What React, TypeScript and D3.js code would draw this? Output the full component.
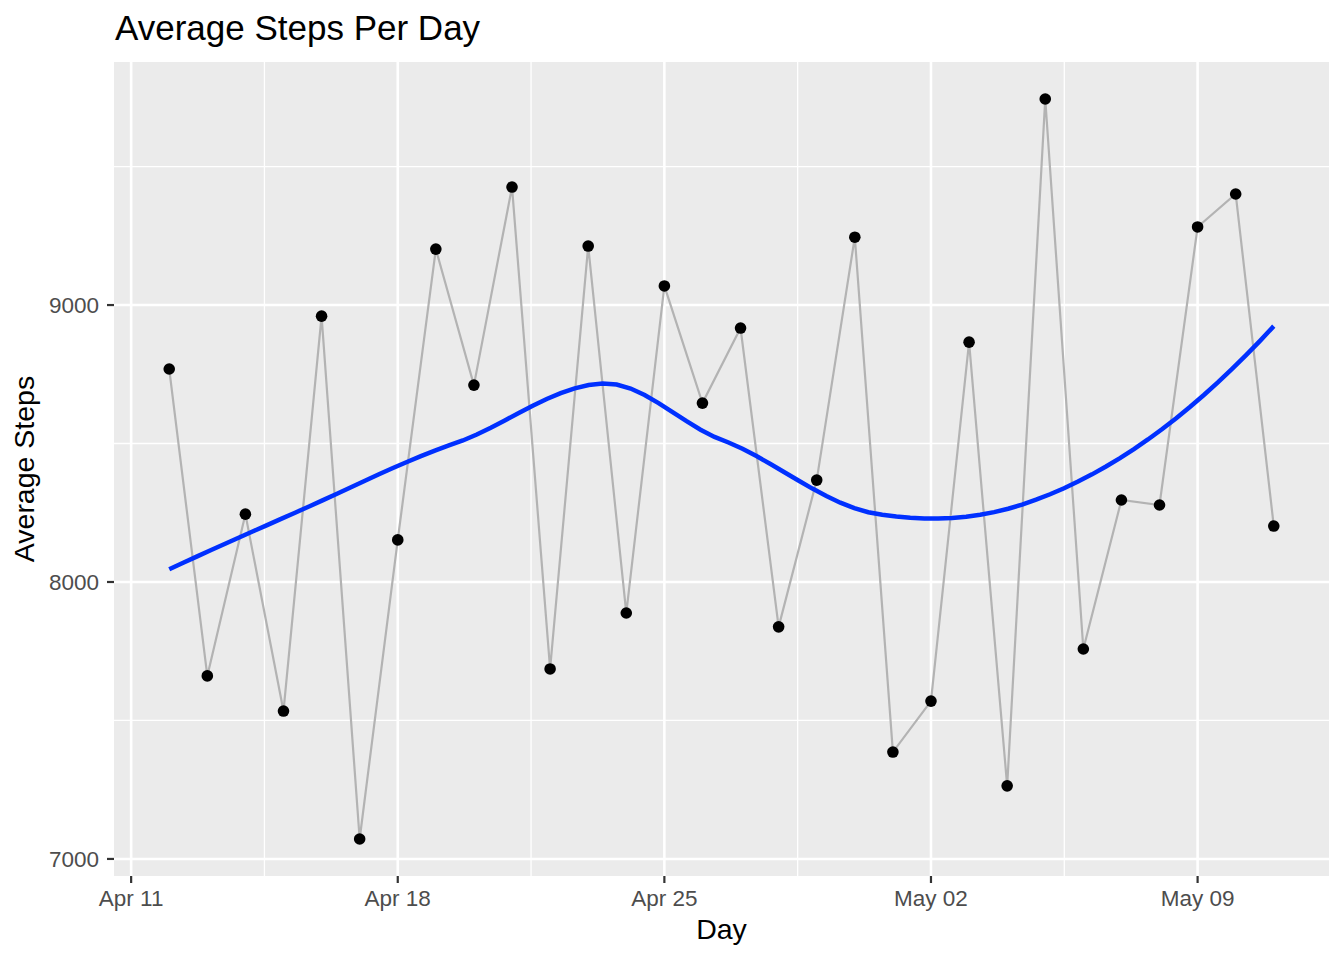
import React from "react";
import * as d3 from "d3";

// ---- Data ----
const days: string[] = [
  "2016-04-12", "2016-04-13", "2016-04-14", "2016-04-15", "2016-04-16",
  "2016-04-17", "2016-04-18", "2016-04-19", "2016-04-20", "2016-04-21",
  "2016-04-22", "2016-04-23", "2016-04-24", "2016-04-25", "2016-04-26",
  "2016-04-27", "2016-04-28", "2016-04-29", "2016-04-30", "2016-05-01",
  "2016-05-02", "2016-05-03", "2016-05-04", "2016-05-05", "2016-05-06",
  "2016-05-07", "2016-05-08", "2016-05-09", "2016-05-10", "2016-05-11",
];
const avgSteps: number[] = [
  8769, 7661, 8245, 7534, 8960,
  7072, 8152, 9202, 8711, 9426,
  7686, 9213, 7888, 9069, 8646,
  8917, 7838, 8368, 9245, 7386,
  7570, 8866, 7264, 9744, 7758,
  8296, 8278, 9282, 9401, 8202,
];
const xTickDays: string[] = ["2016-04-11", "2016-04-18", "2016-04-25", "2016-05-02", "2016-05-09"];
const xTickLabels: string[] = ["Apr 11", "Apr 18", "Apr 25", "May 02", "May 09"];
const yTicks: number[] = [7000, 8000, 9000];
const yMinorTicks: number[] = [7500, 8500, 9500];

const TITLE = "Average Steps Per Day";
const X_TITLE = "Day";
const Y_TITLE = "Average Steps";

// ---- Loess (degree 2, span 0.75, tricube), with R-style kd-tree + Hermite interpolation ----
function localFit(xs: number[], ys: number[], span: number, x0: number): [number, number] {
  const n = xs.length;
  const q = Math.floor(n * span);
  const dists = xs.map((x) => Math.abs(x - x0));
  const sorted = [...dists].sort((a, b) => a - b);
  const h = sorted[q - 1] * (1 + 1e-8);
  const S = [
    [0, 0, 0],
    [0, 0, 0],
    [0, 0, 0],
  ];
  const T = [0, 0, 0];
  for (let i = 0; i < n; i++) {
    const r = dists[i] / h;
    if (r >= 1) continue;
    const w = Math.pow(1 - r * r * r, 3);
    const dx = xs[i] - x0;
    const v = [1, dx, dx * dx];
    for (let a = 0; a < 3; a++) {
      T[a] += w * v[a] * ys[i];
      for (let b = 0; b < 3; b++) S[a][b] += w * v[a] * v[b];
    }
  }
  const M = S.map((row, i) => [...row, T[i]]);
  for (let c = 0; c < 3; c++) {
    let p = c;
    for (let r2 = c + 1; r2 < 3; r2++) if (Math.abs(M[r2][c]) > Math.abs(M[p][c])) p = r2;
    [M[c], M[p]] = [M[p], M[c]];
    for (let r2 = c + 1; r2 < 3; r2++) {
      const f = M[r2][c] / M[c][c];
      for (let k = c; k < 4; k++) M[r2][k] -= f * M[c][k];
    }
  }
  const b = [0, 0, 0];
  for (let r2 = 2; r2 >= 0; r2--) {
    let s = M[r2][3];
    for (let k = r2 + 1; k < 3; k++) s -= M[r2][k] * b[k];
    b[r2] = s / M[r2][r2];
  }
  return [b[0], b[1]];
}

function kdVertices(xs: number[], span: number, cell: number): number[] {
  const sortedX = [...xs].sort((a, b) => a - b);
  const n = sortedX.length;
  const fc = Math.floor(n * span * cell);
  const lo = sortedX[0];
  const hi = sortedX[n - 1];
  const mu = 0.005 * Math.max(hi - lo, 1e-10);
  const verts = [lo - mu, hi + mu];
  const split = (l: number, u: number) => {
    if (u - l + 1 <= fc) return;
    const m = Math.floor((l + u) / 2);
    const v = (sortedX[m] + sortedX[m + 1]) / 2;
    verts.push(v);
    split(l, m);
    split(m + 1, u);
  };
  split(0, n - 1);
  return verts.sort((a, b) => a - b);
}

function loessCurve(xs: number[], ys: number[], span: number, evalX: number[]) {
  const verts = kdVertices(xs, span, 0.2);
  const vv = verts.map((v) => localFit(xs, ys, span, v));
  return evalX.map((x) => {
    let j = 0;
    while (j < verts.length - 2 && x > verts[j + 1]) j++;
    const x0 = verts[j];
    const x1 = verts[j + 1];
    const hh = x1 - x0;
    const t = (x - x0) / hh;
    const [f0, d0] = vv[j];
    const [f1, d1] = vv[j + 1];
    const h00 = 2 * t * t * t - 3 * t * t + 1;
    const h10 = t * t * t - 2 * t * t + t;
    const h01 = -2 * t * t * t + 3 * t * t;
    const h11 = t * t * t - t * t;
    return { x, y: h00 * f0 + h10 * hh * d0 + h01 * f1 + h11 * hh * d1 };
  });
}

const parse = d3.utcParse("%Y-%m-%d");
const DAY = 86400000;

export default function App() {
  const W = 1344;
  const H = 960;
  const panel = { left: 114, right: 1329, top: 62, bottom: 876 };

  const dates = days.map((d) => parse(d) as Date);
  const xsNum = dates.map((d) => d.getTime() / DAY);

  const xMin = d3.min(xsNum) as number;
  const xMax = d3.max(xsNum) as number;
  const nEval = 80;
  const evalX = d3.range(nEval).map((i) => xMin + ((xMax - xMin) * i) / (nEval - 1));
  const smooth = loessCurve(xsNum, avgSteps, 0.75, evalX);

  const xPad = (xMax - xMin) * 0.05;
  const x = d3
    .scaleLinear()
    .domain([xMin - xPad, xMax + xPad])
    .range([panel.left, panel.right]);

  const allY = [...avgSteps, ...smooth.map((s) => s.y)];
  const yLo = d3.min(allY) as number;
  const yHi = d3.max(allY) as number;
  const yPad = (yHi - yLo) * 0.05;
  const y = d3
    .scaleLinear()
    .domain([yLo - yPad, yHi + yPad])
    .range([panel.bottom, panel.top]);

  const xTicks = xTickDays.map((d) => (parse(d) as Date).getTime() / DAY);
  const xMinor: number[] = [];
  for (let i = -1; i < xTicks.length; i++) {
    const a = i < 0 ? xTicks[0] - 7 : xTicks[i];
    const b = i + 1 < xTicks.length ? xTicks[i + 1] : xTicks[i] + 7;
    const m = (a + b) / 2;
    if (m > x.domain()[0] && m < x.domain()[1]) xMinor.push(m);
  }

  const linePath = d3
    .line<number>()
    .x((_, i) => x(xsNum[i]))
    .y((v) => y(v))(avgSteps) as string;

  const smoothPath = d3
    .line<{ x: number; y: number }>()
    .x((d) => x(d.x))
    .y((d) => y(d.y))(smooth) as string;

  const font = "'Liberation Sans', Arial, Helvetica, sans-serif";

  return (
    <svg
      width={W}
      height={H}
      style={{ position: "absolute", left: 0, top: 0, background: "#fff" }}
      fontFamily={font}
    >
      <rect x={0} y={0} width={W} height={H} fill="#fff" />
      <rect
        x={panel.left}
        y={panel.top}
        width={panel.right - panel.left}
        height={panel.bottom - panel.top}
        fill="#EBEBEB"
      />
      <defs>
        <clipPath id="panelClip">
          <rect
            x={panel.left}
            y={panel.top}
            width={panel.right - panel.left}
            height={panel.bottom - panel.top}
          />
        </clipPath>
      </defs>
      {yMinorTicks.map((t) => (
        <line key={"ym" + t} x1={panel.left} x2={panel.right} y1={y(t)} y2={y(t)} stroke="#fff" strokeWidth={1.3} />
      ))}
      {xMinor.map((t) => (
        <line key={"xm" + t} y1={panel.top} y2={panel.bottom} x1={x(t)} x2={x(t)} stroke="#fff" strokeWidth={1.3} />
      ))}
      {yTicks.map((t) => (
        <line key={"y" + t} x1={panel.left} x2={panel.right} y1={y(t)} y2={y(t)} stroke="#fff" strokeWidth={2.6} />
      ))}
      {xTicks.map((t) => (
        <line key={"x" + t} y1={panel.top} y2={panel.bottom} x1={x(t)} x2={x(t)} stroke="#fff" strokeWidth={2.6} />
      ))}

      <g clipPath="url(#panelClip)">
        <path d={linePath} fill="none" stroke="#B3B3B3" strokeWidth={2.2} />
        {avgSteps.map((v, i) => (
          <circle key={i} cx={x(xsNum[i])} cy={y(v)} r={5.8} fill="#000" />
        ))}
        <path d={smoothPath} fill="none" stroke="#0030FF" strokeWidth={4.5} />
      </g>

      {yTicks.map((t) => (
        <g key={"yt" + t}>
          <line x1={panel.left - 7} x2={panel.left} y1={y(t)} y2={y(t)} stroke="#333" strokeWidth={2.2} />
          <text x={panel.left - 15} y={y(t)} dy="0.35em" textAnchor="end" fontSize={22.5} fill="#4D4D4D">
            {t}
          </text>
        </g>
      ))}
      {xTicks.map((t, i) => (
        <g key={"xt" + t}>
          <line y1={panel.bottom} y2={panel.bottom + 7} x1={x(t)} x2={x(t)} stroke="#333" strokeWidth={2.2} />
          <text x={x(t)} y={906} textAnchor="middle" fontSize={22.5} fill="#4D4D4D">
            {xTickLabels[i]}
          </text>
        </g>
      ))}

      <text x={115} y={40} fontSize={35} fill="#000">
        {TITLE}
      </text>
      <text x={(panel.left + panel.right) / 2} y={939} textAnchor="middle" fontSize={28.5} fill="#000">
        {X_TITLE}
      </text>
      <text
        transform={`translate(34, ${(panel.top + panel.bottom) / 2}) rotate(-90)`}
        textAnchor="middle"
        fontSize={28.5}
        fill="#000"
      >
        {Y_TITLE}
      </text>
    </svg>
  );
}
